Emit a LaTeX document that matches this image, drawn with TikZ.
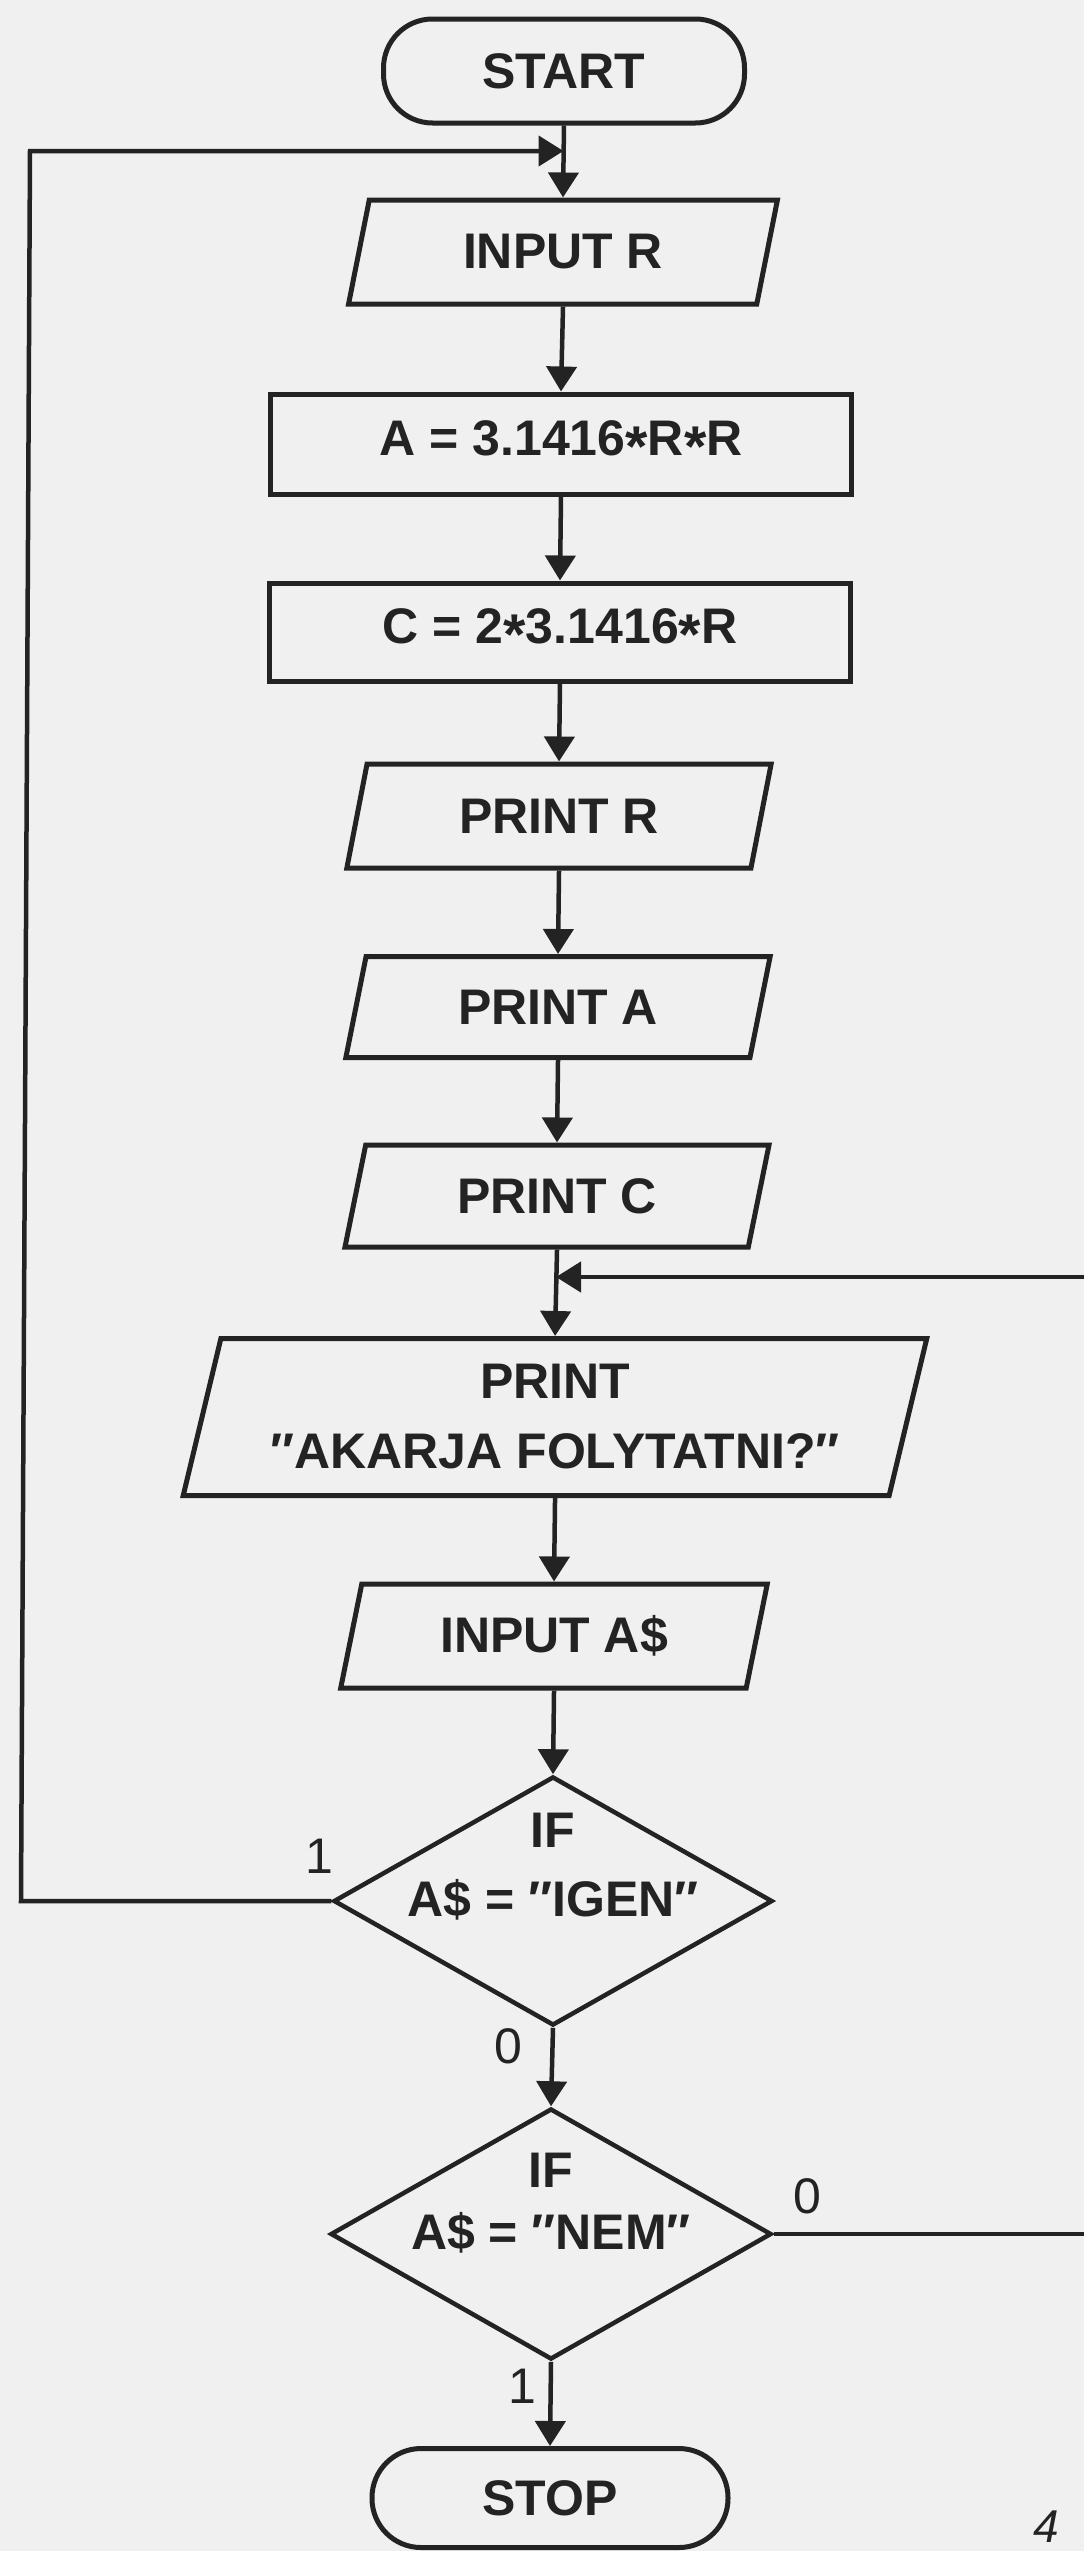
\documentclass[tikz,border=0pt]{standalone}
\usepackage{fontspec}
\setmainfont{Liberation Sans}
\usetikzlibrary{shapes.geometric,arrows.meta}
\definecolor{paper}{HTML}{F0F0F0}
\definecolor{ink}{HTML}{232323}
\newcommand\mst{\raisebox{-0.22em}{\scalebox{1.15}{*}}}
\begin{document}
\begin{tikzpicture}[x=1pt,y=-1pt,
  every node/.style={text=ink, font=\fontsize{50}{70}\selectfont\bfseries},
  box/.style={draw=ink, line width=5pt, rectangle, inner sep=0pt, align=center},
  term/.style={box, rounded corners=49pt},
  io/.style={draw=ink, line width=5pt, trapezium, trapezium left angle=73,
    trapezium right angle=107, trapezium stretches=true, inner sep=0pt, align=center},
  dec/.style={draw=ink, line width=4.5pt, diamond, inner sep=0pt},
  dectext/.style={align=center},
  lbl/.style={font=\fontsize{50}{60}\selectfont},
  conn/.style={draw=ink, line width=4.5pt},
  arr/.style={conn, -{Triangle[length=25pt,width=30pt]}}
]
\fill[paper] (0,0) rectangle (1084,2551);
\useasboundingbox (0,0) rectangle (1084,2551);

\node[term, minimum width=361pt, minimum height=104pt] (start) at (564,71) {START};
\node[io, minimum width=429pt, minimum height=104pt] (inr) at (563,252) {INPUT R};
\node[box, minimum width=581pt, minimum height=100pt] (area) at (561,444) {A = 3.1416\mst R\mst R};
\node[box, minimum width=581pt, minimum height=98pt] (circ) at (560,632) {C = 2\mst 3.1416\mst R};
\node[io, minimum width=425pt, minimum height=104pt] (pr) at (559,816) {PRINT R};
\node[io, minimum width=425pt, minimum height=101pt] (pa) at (558,1007) {PRINT A};
\node[io, minimum width=425pt, minimum height=102pt] (pc) at (557,1196) {PRINT C};
\node[io, minimum width=747pt, minimum height=157pt] (ask) at (555,1417) {PRINT\\″AKARJA FOLYTATNI?″};
\node[io, minimum width=427pt, minimum height=104pt] (ina) at (554,1636) {INPUT A\$};
\node[dec, minimum width=439pt, minimum height=249pt] (igen) at (553,1901) {};
\node[dec, minimum width=441pt, minimum height=251pt] (nem) at (551,2234) {};
\node[term, minimum width=356pt, minimum height=99pt] (stop) at (550,2498) {STOP};

\node[dectext, font=\fontsize{50}{69}\selectfont\bfseries] (igent) at (553,1867) {IF\\A\$ = ″IGEN″};
\node[dectext, font=\fontsize{50}{62}\selectfont\bfseries] (nemt) at (551,2203) {IF\\A\$ = ″NEM″};

\coordinate (j1) at (563.5,151);
\coordinate (j2) at (556,1277);

\draw[arr] (start.south) -- (inr.north);
\draw[arr] (inr.south) -- (area.north);
\draw[arr] (area.south) -- (circ.north);
\draw[arr] (circ.south) -- (pr.north);
\draw[arr] (pr.south) -- (pa.north);
\draw[arr] (pa.south) -- (pc.north);
\draw[arr] (pc.south) -- (ask.north);
\draw[arr] (ask.south) -- (ina.north);
\draw[arr] (ina.south) -- (igen.north);
\draw[arr] (igen.south) -- (nem.north);
\draw[arr] (nem.south) -- (stop.north);

\draw[arr] (igen.west) -- (21,1901) -- (30,151) -- (j1);
\begin{scope}
\clip (0,0) rectangle (1084,2551);
\draw[arr] (nem.east) -- (1120,2234) -- (1120,1277) -- (j2);
\end{scope}

\node[lbl] (l1) at (319,1856) {1};
\node[lbl] (l2) at (508,2046) {0};
\node[lbl] (l3) at (807,2196) {0};
\node[lbl] (l4) at (522,2386) {1};
\node[lbl, font=\fontsize{46}{60}\selectfont\itshape, anchor=base, inner sep=0pt] (pg) at (1046,2542) {4};
\end{tikzpicture}
\end{document}
